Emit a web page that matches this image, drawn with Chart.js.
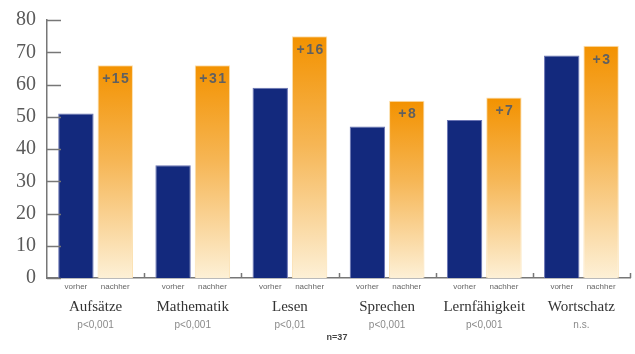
<!DOCTYPE html>
<html>
<head>
<meta charset="utf-8">
<script src="https://cdn.jsdelivr.net/npm/chart.js@4/dist/chart.umd.min.js"></script>
<style>
    html, body { margin: 0; padding: 0; background: #fff; }
    #chart { display: block; }
</style>
</head>
<body>
<canvas id="chart" width="635" height="354"></canvas>
<script>
const categories = ['Aufsätze', 'Mathematik', 'Lesen', 'Sprechen', 'Lernfähigkeit', 'Wortschatz'];
const pValues = ['p<0,001', 'p<0,001', 'p<0,01', 'p<0,001', 'p<0,001', 'n.s.'];
const vorher = [51, 35, 59, 47, 49, 69];
const nachher = [66, 66, 75, 55, 56, 72];
const seriesNames = ['vorher', 'nachher'];
const sampleNote = 'n=37';

const navy = '#13297d';
const orangeTop = '#f39200';
const orangeBottom = '#fdf0d6';

// Verlauf pro Balken: oben kräftiges Orange, unten fast weiß
const orangeGradient = (ctx) => {
    const chart = ctx.chart;
    const area = chart.chartArea;
    if (!area || ctx.parsed == null) {
        return orangeTop;
    }
    const yTop = chart.scales.y.getPixelForValue(ctx.parsed.y);
    const g = chart.ctx.createLinearGradient(0, yTop, 0, area.bottom);
    g.addColorStop(0, orangeTop);
    g.addColorStop(0.45, '#f6b655');
    g.addColorStop(1, orangeBottom);
    return g;
};

const annotations = {
    id: 'annotations',
    afterDatasetsDraw: (chart) => {
        const ctx = chart.ctx;
        const x = chart.scales.x;
        const y = chart.scales.y;
        const area = chart.chartArea;
        const metaV = chart.getDatasetMeta(0);
        const metaN = chart.getDatasetMeta(1);
        ctx.save();

        // Striche an der y-Achse (nach innen)
        ctx.strokeStyle = '#777';
        ctx.lineWidth = 1.5;
        for (let v = 0; v <= 80; v += 10) {
            const py = Math.round(y.getPixelForValue(v)) + 0.5;
            ctx.beginPath();
            ctx.moveTo(area.left, py);
            ctx.lineTo(area.left + 14, py);
            ctx.stroke();
        }

        // kleine Striche zwischen den Kategorien
        const catWidth = (area.right - area.left) / categories.length;
        for (let i = 1; i <= categories.length; i++) {
            const px = Math.round(area.left + catWidth * i) + 0.5;
            ctx.beginPath();
            ctx.moveTo(px, area.bottom);
            ctx.lineTo(px, area.bottom - 5);
            ctx.stroke();
        }

        // Differenzen in den orangen Balken
        ctx.textAlign = 'center';
        ctx.textBaseline = 'middle';
        ctx.font = 'bold 14px "Liberation Sans", Arial, sans-serif';
        ctx.letterSpacing = '1.5px';
        ctx.fillStyle = '#606060';
        metaN.data.forEach((bar, i) => {
            ctx.fillText('+' + (nachher[i] - vorher[i]), bar.x + 1, bar.y + 14);
        });
        ctx.letterSpacing = '0px';

        // vorher / nachher unter den Balken
        ctx.font = '8px "Liberation Sans", Arial, sans-serif';
        ctx.fillStyle = '#666';
        [metaV, metaN].forEach((meta, d) => {
            meta.data.forEach((bar) => {
                ctx.fillText(seriesNames[d], bar.x, area.bottom + 9);
            });
        });

        // Kategorienamen und p-Werte
        categories.forEach((name, i) => {
            const cx = x.getPixelForValue(i);
            ctx.font = '15px "Liberation Serif", "DejaVu Serif", serif';
            ctx.fillStyle = '#333';
            ctx.fillText(name, cx, area.bottom + 29);
            ctx.font = '10px "Liberation Sans", Arial, sans-serif';
            ctx.fillStyle = '#8a8a8a';
            ctx.fillText(pValues[i], cx, area.bottom + 47);
        });

        ctx.font = 'bold 9px "Liberation Sans", Arial, sans-serif';
        ctx.fillStyle = '#444';
        ctx.fillText(sampleNote, 337, area.bottom + 60);

        ctx.restore();
    }
};

const config = {
    type: 'bar',
    data: {
        labels: categories,
        datasets: [
            {
                label: seriesNames[0],
                data: vorher,
                backgroundColor: navy,
                borderColor: '#6a74b4',
                borderWidth: 1,
                categoryPercentage: 0.81,
                barPercentage: 0.9
            },
            {
                label: seriesNames[1],
                data: nachher,
                backgroundColor: orangeGradient,
                borderColor: '#fbe0b0',
                borderWidth: 1,
                categoryPercentage: 0.81,
                barPercentage: 0.9
            }
        ]
    },
    options: {
        responsive: false,
        animation: false,
        layout: {
            padding: { top: 20, right: 5, bottom: 0, left: 0 }
        },
        scales: {
            x: {
                grid: { display: false },
                border: { display: true, color: '#777', width: 1.5 },
                ticks: { display: false },
                afterFit: (scale) => { scale.height = 76; }
            },
            y: {
                min: 0,
                max: 80,
                grid: { display: false },
                border: { display: true, color: '#777', width: 1.5 },
                ticks: {
                    stepSize: 10,
                    padding: 3,
                    color: '#5a5a5a',
                    font: { family: '"Liberation Serif", "DejaVu Serif", serif', size: 20 }
                },
                afterFit: (scale) => { scale.width = 47; }
            }
        },
        plugins: {
            legend: { display: false },
            tooltip: { enabled: false },
            title: { display: false }
        }
    },
    plugins: [annotations]
};

new Chart(document.getElementById('chart'), config);
</script>
</body>
</html>
